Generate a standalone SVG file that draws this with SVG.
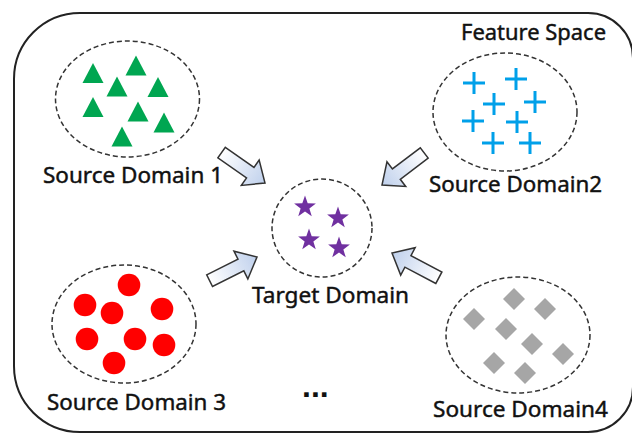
<svg xmlns="http://www.w3.org/2000/svg" xmlns:xlink="http://www.w3.org/1999/xlink" width="632" height="435" viewBox="0 0 632 435">
<style>
.frame{fill:#fff;stroke:#222;stroke-width:2}
.dom{fill:none;stroke:#333;stroke-width:1.5;stroke-dasharray:5 3}
.lbl{font-family:"Noto Sans","Liberation Sans",sans-serif;font-size:22.5px;fill:#111;stroke:#111;stroke-width:0.45}
.tri{fill:#00a651}
.crs{stroke:#00a0e9;stroke-width:3;fill:none}
.dot{fill:#ff0000}
.dia{fill:#a6a6a6}
.star{fill:#7030a0}
.arr{fill:url(#ag);stroke:#333;stroke-width:1.5;stroke-linejoin:miter}
</style>
<defs>
<linearGradient id="ag" x1="0" y1="0" x2="1" y2="0">
<stop offset="0" stop-color="#ffffff"/>
<stop offset="1" stop-color="#bfd0ec"/>
</linearGradient>
<path id="t" d="M0,-10 L10.5,10 L-10.5,10 Z"/>
<path id="c" d="M-11,0 H11 M0,-11 V11"/>
<path id="d" d="M0,-11 L11,0 L0,11 L-11,0 Z"/>
<path id="s" d="M0,-11.5 L2.7,-3.7 L10.9,-3.55 L4.37,1.42 L6.76,9.3 L0,4.6 L-6.76,9.3 L-4.37,1.42 L-10.9,-3.55 L-2.7,-3.7 Z"/>
<path id="a" d="M-53,-6.5 L-18,-6.5 L-18,-15.5 L0,0 L-18,15.5 L-18,6.5 L-53,6.5 Z"/>
</defs>
<rect width="632" height="435" fill="#fff"/>
<g id="feature-space">
<path class="frame" d="M80,13 H588 A45,45 0 0 1 633,58 V387 A45,45 0 0 1 588,432 H80 A66,66 0 0 1 14,366 V79 A66,66 0 0 1 80,13 Z"/>
<text class="lbl" x="461" y="40" textLength="145" lengthAdjust="spacingAndGlyphs">Feature Space</text>
</g>
<g id="source-domain-1">
<ellipse class="dom" cx="127.5" cy="99" rx="72" ry="58"/>
<g class="tri">
<use href="#t" x="93" y="73"/><use href="#t" x="136" y="65.5"/><use href="#t" x="117" y="86.5"/><use href="#t" x="158" y="87"/>
<use href="#t" x="93" y="107"/><use href="#t" x="138" y="111.5"/><use href="#t" x="164" y="122.5"/><use href="#t" x="122" y="136.5"/>
</g>
<text class="lbl" x="43" y="183" textLength="180" lengthAdjust="spacingAndGlyphs">Source Domain 1</text>
</g>
<g id="source-domain-2">
<ellipse class="dom" cx="505" cy="112" rx="72" ry="59"/>
<g class="crs">
<use href="#c" x="474" y="83"/><use href="#c" x="516" y="79"/><use href="#c" x="494" y="104"/><use href="#c" x="535" y="102"/>
<use href="#c" x="473" y="121"/><use href="#c" x="517" y="122"/><use href="#c" x="493" y="143"/><use href="#c" x="530" y="143"/>
</g>
<text class="lbl" x="429" y="192" textLength="173" lengthAdjust="spacingAndGlyphs">Source Domain2</text>
</g>
<g id="target-domain">
<ellipse class="dom" cx="322" cy="228" rx="50" ry="49"/>
<g class="star">
<use href="#s" x="305" y="207"/><use href="#s" x="338" y="218"/><use href="#s" x="309" y="240"/><use href="#s" x="339" y="248"/>
</g>
<text class="lbl" x="252" y="303" textLength="157" lengthAdjust="spacingAndGlyphs">Target Domain</text>
</g>
<g id="source-domain-3">
<ellipse class="dom" cx="124" cy="324" rx="72" ry="59"/>
<g class="dot">
<circle cx="129" cy="285" r="11.3"/><circle cx="85" cy="305" r="11.3"/><circle cx="112" cy="313" r="11.3"/><circle cx="162" cy="309" r="11.3"/>
<circle cx="87" cy="339" r="11.3"/><circle cx="135" cy="339" r="11.3"/><circle cx="164" cy="345" r="11.3"/><circle cx="114" cy="363" r="11.3"/>
</g>
<text class="lbl" x="47" y="410" textLength="179" lengthAdjust="spacingAndGlyphs">Source Domain 3</text>
</g>
<g id="source-domain-4">
<ellipse class="dom" cx="518" cy="335" rx="72" ry="58"/>
<g class="dia">
<use href="#d" x="514" y="299"/><use href="#d" x="545" y="309"/><use href="#d" x="474" y="319"/><use href="#d" x="506" y="329"/>
<use href="#d" x="532" y="344"/><use href="#d" x="563" y="354"/><use href="#d" x="494" y="363"/><use href="#d" x="525" y="373"/>
</g>
<text class="lbl" x="433" y="417" textLength="175" lengthAdjust="spacingAndGlyphs">Source Domain4</text>
</g>
<g id="more">
<text x="302" y="397" style="font-family:'Liberation Sans',sans-serif;font-size:32px;font-weight:bold;fill:#111">...</text>
</g>
<g id="connectors">
<use class="arr" href="#a" transform="translate(265,183) rotate(35)"/>
<use class="arr" href="#a" transform="translate(382,185) rotate(142.8)"/>
<use class="arr" href="#a" transform="translate(257,257) rotate(-26.6)"/>
<use class="arr" href="#a" transform="translate(392,253) rotate(207.8)"/>
</g>
</svg>
